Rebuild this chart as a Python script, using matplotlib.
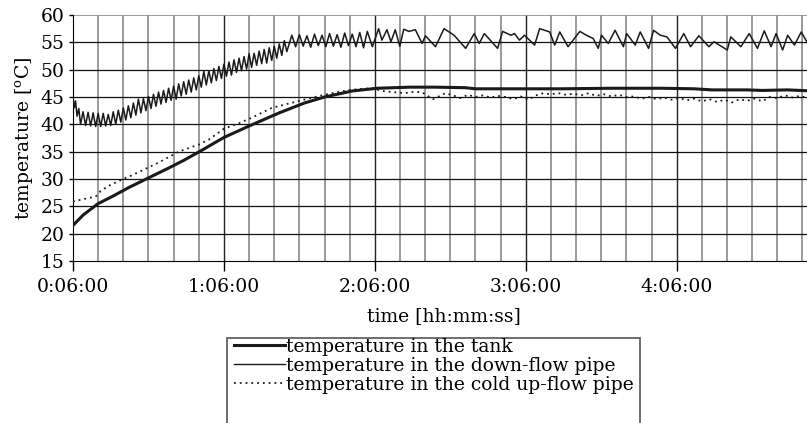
import matplotlib
matplotlib.use("Agg")
import matplotlib.pyplot as plt
from matplotlib.ticker import FixedLocator, FuncFormatter
from matplotlib.lines import Line2D
from matplotlib.patches import Rectangle
import numpy as np

plt.rcParams['font.family'] = ['DejaVu Serif']
plt.rcParams['mathtext.fontset'] = 'dejavuserif'

# time in minutes on the clock (0:06:00 = 6)
tank_t = [6, 10, 16, 22, 28, 36, 44, 50, 57, 66, 77, 88, 98, 106, 117, 127,
          140, 150, 162, 166, 180, 200, 220, 240, 253, 260, 274, 280, 290, 300]
tank_T = [21.5, 23.4, 25.5, 26.9, 28.4, 30.2, 32.0, 33.4, 35.2, 37.6, 39.9, 42.1,
          43.9, 45.0, 46.1, 46.6, 46.8, 46.8, 46.7, 46.5, 46.5, 46.5, 46.6, 46.6,
          46.5, 46.3, 46.3, 46.2, 46.3, 46.1]

down_t = [6.0, 6.5, 7.0, 7.6, 8.3,
          9, 10, 11, 12, 13, 14, 15, 16, 17, 18, 19, 20, 21, 22, 23, 24, 25,
          26, 27, 28, 29, 30, 31, 32, 33, 34, 35, 36, 37, 38, 39, 40, 41, 42,
          43, 44, 45, 46, 47, 48, 49, 50, 51, 52, 53, 54, 55, 56, 57, 58, 59,
          60, 61, 62, 63, 64, 65, 66, 67, 68, 69, 70, 71, 72, 73, 74, 75, 76,
          77, 78, 79, 80, 81, 82, 83, 84, 85, 86, 87, 88, 89, 90, 91,
          93, 94.5, 96, 97.5, 99, 100.5, 102, 103.5, 105, 106.5, 108, 109.5,
          111, 112.5, 114, 115.5, 117, 118.5, 120, 121.5, 123, 125,
          127.5, 128.8, 130.8, 132.4, 134.1, 135.9, 137.5, 139.5, 142.1, 144.8,
          146.1, 150.1, 153.5, 157.5, 162.1, 165.5, 167.5, 169.5, 174.8, 176.8,
          180.1, 181.5, 183.5, 185.5, 189.5, 191.5, 195.5, 197.5, 199.5, 202.8,
          207.5, 210.1, 212.8, 214.8, 216.1, 218.8, 221.5, 224.8, 226.1, 229.5,
          231.5, 234.8, 236.8, 239.5, 242.1, 245.5, 248.8, 251.5, 254.8, 258.8,
          260.8, 266.1, 267.5, 271.5, 274.8, 278.1, 280.8, 283.5, 285.5, 288.1,
          290.1, 292.8, 295.5, 298.1, 300]
down_T = [45.0, 43.0, 44.3, 41.5, 42.9,
          40.0, 42.3, 39.8, 42.2, 39.7, 42.1, 39.6, 42.0, 39.6, 42.0, 39.7, 41.8,
          39.8, 42.3, 40.0, 42.6, 40.4, 43.0, 40.8, 43.4, 41.2, 43.9, 41.7, 44.6,
          42.1, 44.7, 42.5, 45.1, 42.9, 45.5, 43.3, 45.9, 43.7, 46.2, 44.0, 46.6,
          44.4, 47.0, 44.6, 47.4, 45.2, 47.8, 45.5, 48.1, 45.9, 48.5, 46.3, 48.9,
          46.8, 49.7, 47.2, 49.8, 47.6, 50.2, 48.0, 50.6, 48.4, 51.0, 48.8, 51.4,
          49.0, 51.8, 49.5, 52.1, 49.8, 52.4, 50.1, 52.9, 50.4, 53.0, 50.8, 53.4,
          51.1, 53.7, 51.2, 54.0, 51.7, 54.3, 52.1, 54.7, 52.6, 55.3, 53.3,
          56.3, 54.2, 56.4, 54.3, 56.2, 54.1, 56.5, 54.4, 56.3, 54.2, 56.6, 54.3,
          56.4, 54.1, 56.7, 54.4, 56.5, 54.2, 56.8, 54.0, 57.0, 54.2,
          57.5, 55.4, 57.3, 55.1, 57.3, 54.3, 57.4, 57.0, 57.3, 54.8,
          56.2, 54.2, 57.5, 56.3, 53.9, 56.6, 54.8, 56.6, 53.9, 57.0,
          56.3, 56.6, 55.4, 56.3, 54.5, 57.5, 56.9, 54.5, 56.9, 54.2,
          57.0, 56.3, 55.7, 53.9, 56.3, 54.8, 57.2, 54.2, 56.6, 54.5,
          56.9, 53.9, 57.2, 56.3, 56.0, 53.9, 56.6, 54.2, 56.2, 54.2,
          55.1, 53.6, 56.0, 54.2, 56.6, 53.9, 57.1, 54.2, 56.6, 53.6,
          56.3, 54.5, 56.9, 54.8, 55.7]

cold_t = [6, 10, 15, 17, 20, 25, 30, 35, 40, 48, 56, 60, 66, 72, 77, 85, 90, 96,
          104, 110, 116, 121, 125, 129, 133, 138, 142, 145, 147, 149, 151, 154,
          157, 160, 163, 166, 169, 172, 175, 178, 181, 184, 187, 190, 193, 196,
          199, 202, 205, 208, 211, 214, 217, 220, 223, 226, 229, 232, 235, 238,
          241, 244, 247, 250, 253, 256, 259, 262, 265, 268, 271, 274, 277, 280,
          283, 286, 289, 292, 295, 298, 300]
cold_T = [25.9, 26.3, 26.8, 27.8, 28.7, 29.8, 30.8, 31.9, 33.0, 35.0, 36.3, 37.2,
          39.2, 40.2, 41.2, 43.0, 43.6, 44.3, 45.2, 45.8, 46.3, 46.5, 46.6, 46.1,
          45.9, 45.7, 46.0, 45.8, 45.2, 44.6, 45.0, 45.7, 45.3, 44.8, 45.4, 45.0,
          45.3, 44.9, 45.2, 45.0, 44.6, 45.1, 44.5, 45.3, 45.7, 45.5, 45.7, 45.4,
          45.6, 45.3, 45.7, 45.2, 45.5, 45.1, 45.4, 45.0, 45.1, 44.7, 45.0, 44.6,
          44.9, 44.5, 44.8, 44.4, 44.7, 44.2, 44.6, 44.1, 44.5, 44.0, 44.6, 44.3,
          44.7, 44.2, 45.0, 44.8, 45.3, 44.9, 45.2, 44.8, 45.0]

labels = ["temperature in the tank",
          "temperature in the down-flow pipe",
          "temperature in the cold up-flow pipe"]

W, H = 807, 423
fig = plt.figure(figsize=(W / 100, H / 100), dpi=100)
ax = fig.add_axes([73 / W, 1 - 261 / H, (W - 73) / W + 0.01, (261 - 15) / H])

ax.set_xlim(6, 301)
ax.set_ylim(15, 60)

# grid: grey every 10 min, dark at the hour marks, black every 5 degrees
major_x = [6, 66, 126, 186, 246]
minor_x = [m for m in np.arange(16, 301, 10) if m not in major_x]
for m in minor_x:
    ax.axvline(m, color='#7f7f7f', lw=1.1, zorder=1)
for m in major_x[1:]:
    ax.axvline(m, color='#222222', lw=1.0, zorder=1)
for v in range(20, 60, 5):
    ax.axhline(v, color='#111111', lw=0.9, zorder=1)
ax.axhline(60, color='#8a8a8a', lw=1.2, zorder=1)

ax.plot(tank_t, tank_T, color='#1a1a1a', lw=2.2, zorder=3)
ax.plot(down_t, down_T, color='#1a1a1a', lw=1.1, zorder=3)
ax.plot(cold_t, cold_T, color='#1a1a1a', lw=1.3, ls=(0, (1, 2.2)), zorder=3)

for s in ['top', 'right']:
    ax.spines[s].set_visible(False)

ax.xaxis.set_major_locator(FixedLocator(major_x))
ax.xaxis.set_major_formatter(FuncFormatter(
    lambda m, p: "%d:%02d:00" % (int(m // 60), int(m % 60))))
ax.set_yticks(range(15, 61, 5))
ax.tick_params(axis='x', direction='out', length=7, width=1, pad=5,
               labelsize=13.5)
ax.tick_params(axis='y', direction='out', length=3, width=1, pad=3,
               labelsize=13.5)

ax.set_xlabel("time [hh:mm:ss]", fontsize=13.5, labelpad=8)
ax.set_ylabel(r"temperature [$^{\mathrm{o}}$C]", fontsize=13.5, labelpad=4)

handles = [Line2D([], [], color='#1a1a1a', lw=2.2),
           Line2D([], [], color='#1a1a1a', lw=1.0),
           Line2D([], [], color='#1a1a1a', lw=1.3, ls=(0, (1, 2.2)))]
leg = fig.legend(handles, labels, loc='upper left',
                 bbox_to_anchor=(232 / W, 1 - 336 / H), frameon=False,
                 fontsize=13.5, handlelength=2.7, handletextpad=0.1,
                 labelspacing=0.05, borderaxespad=0, borderpad=0.1)

# legend frame runs off the bottom of the picture, as in the original
fig.canvas.draw()
bb = leg.get_window_extent()
right = bb.x1 + 4
box = Rectangle((227 / W, -0.05), (right - 227) / W, (1 - 338 / H) + 0.05,
                transform=fig.transFigure, fill=False, edgecolor='#555555',
                lw=1.2)
fig.patches.append(box)

fig.savefig("out.png", dpi=100)
